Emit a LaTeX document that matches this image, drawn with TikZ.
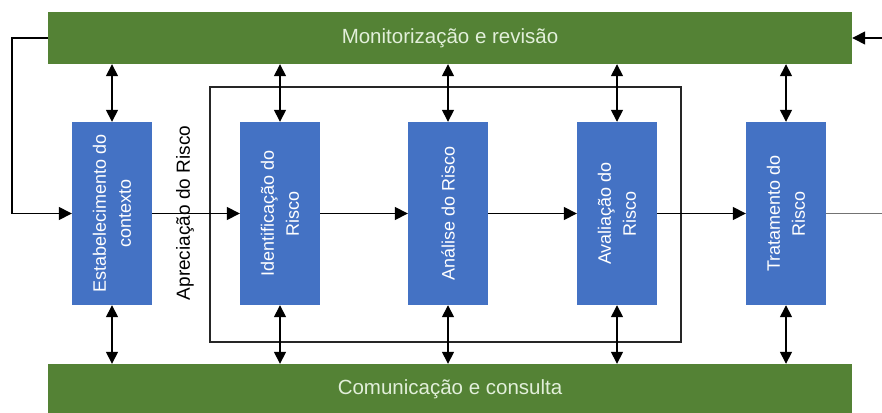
\documentclass[tikz,border=0pt]{standalone}
\usepackage{fontspec}
\setmainfont{Liberation Sans}
\usetikzlibrary{arrows.meta}

\definecolor{bargreen}{HTML}{548235}
\definecolor{boxblue}{HTML}{4472C4}
\definecolor{bartext}{HTML}{E2EFDA}

\begin{document}
\begin{tikzpicture}[x=1pt, y=-1pt]
    % Define styles
    \tikzset{
        barbox/.style={fill=bargreen, minimum width=804pt, minimum height=52pt, inner sep=0pt, text=bartext, font=\fontsize{20.5}{24}\selectfont},
        riskbox/.style={fill=boxblue, minimum width=80pt, minimum height=183pt, inner sep=0pt},
        risktext/.style={rotate=90, text=white, align=center, font=\fontsize{18}{25}\selectfont},
        groupbox/.style={draw=black!85, line width=2pt, minimum width=471pt, minimum height=255pt, inner sep=0pt},
        flowarrow/.style={-{Triangle[length=13pt, width=13pt]}, line width=1.5pt},
        dblarrow/.style={{Triangle[length=12pt, width=12pt]}-{Triangle[length=12pt, width=12pt]}, line width=1.5pt}
    }
    \useasboundingbox (0,0) rectangle (882,412);

    % Monitoring and communication bars
    \node[barbox] (monitor) at (450,38) {Monitorização e revisão};
    \node[barbox, minimum height=50pt] (comm) at (450,389) {Comunicação e consulta};

    % Risk assessment frame
    \node[groupbox] (aprec) at (445.5,214.5) {};
    \node[rotate=90, font=\fontsize{19}{23}\selectfont] (apreclabel) at (185,213) {Apreciação do Risco};

    % Process boxes
    \node[riskbox] (ctx) at (112,213.5) {};
    \node[riskbox] (ident) at (280,213.5) {};
    \node[riskbox] (anal) at (448,213.5) {};
    \node[riskbox] (aval) at (617,213.5) {};
    \node[riskbox] (trat) at (786,213.5) {};

    % Box texts
    \node[risktext] (ctxtext) at (ctx) {Estabelecimento do\\contexto};
    \node[risktext] (identtext) at (ident) {Identificação do\\Risco};
    \node[risktext] (analtext) at (anal) {Análise do Risco};
    \node[risktext] (avaltext) at (aval) {Avaliação do\\Risco};
    \node[risktext] (trattext) at (trat) {Tratamento do\\Risco};

    % Main flow
    \draw[flowarrow] (ctx) -- (ident);
    \draw[flowarrow] (ident) -- (anal);
    \draw[flowarrow] (anal) -- (aval);
    \draw[flowarrow] (aval) -- (trat);

    % Feedback loops
    \coordinate (fbleft) at (12,213.5);
    \coordinate (fbright) at (884,213.5);
    \draw[line width=1.5pt] (monitor.west) -| (fbleft);
    \draw[flowarrow] (fbleft) -- (ctx.west);
    \draw[line width=1.5pt, black!55] (trat.east) -- (fbright);
    \draw[flowarrow] (fbright) |- (monitor.east);

    % Links to monitoring and communication
    \foreach \b in {ctx, ident, anal, aval, trat} {
        \draw[dblarrow] (monitor.south -| \b.north) -- (\b.north);
        \draw[dblarrow] (\b.south) -- (comm.north -| \b.south);
    }
\end{tikzpicture}
\end{document}
